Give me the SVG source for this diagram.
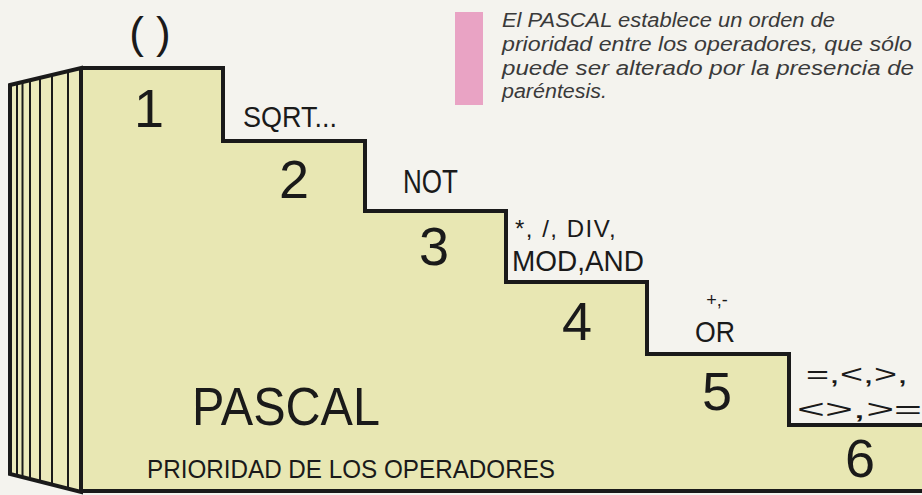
<svg xmlns="http://www.w3.org/2000/svg" width="922" height="495" viewBox="0 0 922 495">
<style>
.lbl{font-family:"Liberation Sans",Arial,sans-serif;fill:#1a1a1a}
.num{font-family:"Liberation Sans",Arial,sans-serif;fill:#1a1a1a;font-size:54px;text-anchor:middle}
.note{font-family:"Liberation Sans",Arial,sans-serif;font-style:italic;fill:#3a3a3a;font-size:20px}
.edge{fill:none;stroke:#1a1a1a;stroke-width:4;stroke-linejoin:miter}
.stripe{stroke:#1a1a1a;stroke-width:2}
</style>
<rect width="922" height="495" fill="#f4f3ee"/>
<g id="staircase">
<path d="M81,68 H223 V141 H365 V211 H506 V282 H647 V354 H789 V425 H922 V491 H81 Z" fill="#e8e7b3"/>
<path d="M10,85 L81,68 L81,492 L10,474 Z" fill="#ebeabb"/>
<g class="stripe">
<line x1="17" y1="83.3" x2="17" y2="475.8"/>
<line x1="22.5" y1="82" x2="22.5" y2="477.2"/>
<line x1="30" y1="80.2" x2="30" y2="479.1"/>
<line x1="40" y1="77.8" x2="40" y2="481.6"/>
<line x1="52" y1="74.9" x2="52" y2="484.6"/>
<line x1="68" y1="71.1" x2="68" y2="488.7"/>
</g>
<path class="edge" d="M10,85 L81,68 L81,492 L10,474 Z"/>
<path class="edge" d="M81,68 H223 V141 H365 V211 H506 V282 H647 V354 H789 V425 H922"/>
<path class="edge" d="M81,491 H922"/>
</g>
<g id="note">
<rect x="455" y="12" width="28" height="93" fill="#e9a3c4"/>
<text class="note" x="502" y="27" textLength="333" lengthAdjust="spacingAndGlyphs">El PASCAL establece un orden de</text>
<text class="note" x="502" y="51" textLength="410" lengthAdjust="spacingAndGlyphs">prioridad entre los operadores, que sólo</text>
<text class="note" x="502" y="75" textLength="412" lengthAdjust="spacingAndGlyphs">puede ser alterado por la presencia de</text>
<text class="note" x="502" y="98" textLength="105" lengthAdjust="spacingAndGlyphs">paréntesis.</text>
</g>
<g id="level1">
<text class="lbl" x="150" y="48" font-size="44" text-anchor="middle">( )</text>
<text class="num" x="149" y="127">1</text>
</g>
<g id="level2">
<text class="lbl" x="243" y="127" font-size="30" textLength="94" lengthAdjust="spacingAndGlyphs">SQRT...</text>
<text class="num" x="294" y="198">2</text>
</g>
<g id="level3">
<text class="lbl" x="403" y="193" font-size="33" textLength="55" lengthAdjust="spacingAndGlyphs">NOT</text>
<text class="num" x="434" y="265">3</text>
</g>
<g id="level4">
<text class="lbl" x="515" y="237" font-size="24" letter-spacing="1.5">*, /, DIV,</text>
<text class="lbl" x="512" y="271" font-size="30" textLength="132" lengthAdjust="spacingAndGlyphs">MOD,AND</text>
<text class="num" x="577" y="340">4</text>
</g>
<g id="level5">
<text class="lbl" x="717" y="306" font-size="18" text-anchor="middle">+,-</text>
<text class="lbl" x="695" y="342" font-size="30" textLength="40" lengthAdjust="spacingAndGlyphs">OR</text>
<text class="num" x="717" y="410">5</text>
</g>
<g id="level6">
<text class="lbl" x="806" y="383" font-size="26" textLength="102" lengthAdjust="spacingAndGlyphs">=,&lt;,&gt;,</text>
<text class="lbl" x="797" y="418" font-size="26" textLength="125" lengthAdjust="spacingAndGlyphs">&lt;&gt;,&gt;=</text>
<text class="num" x="860" y="477">6</text>
</g>
<g id="title">
<text class="lbl" x="192" y="425" font-size="53" textLength="188" lengthAdjust="spacingAndGlyphs">PASCAL</text>
<text class="lbl" x="147" y="478" font-size="25" textLength="408" lengthAdjust="spacingAndGlyphs">PRIORIDAD DE LOS OPERADORES</text>
</g>
</svg>
